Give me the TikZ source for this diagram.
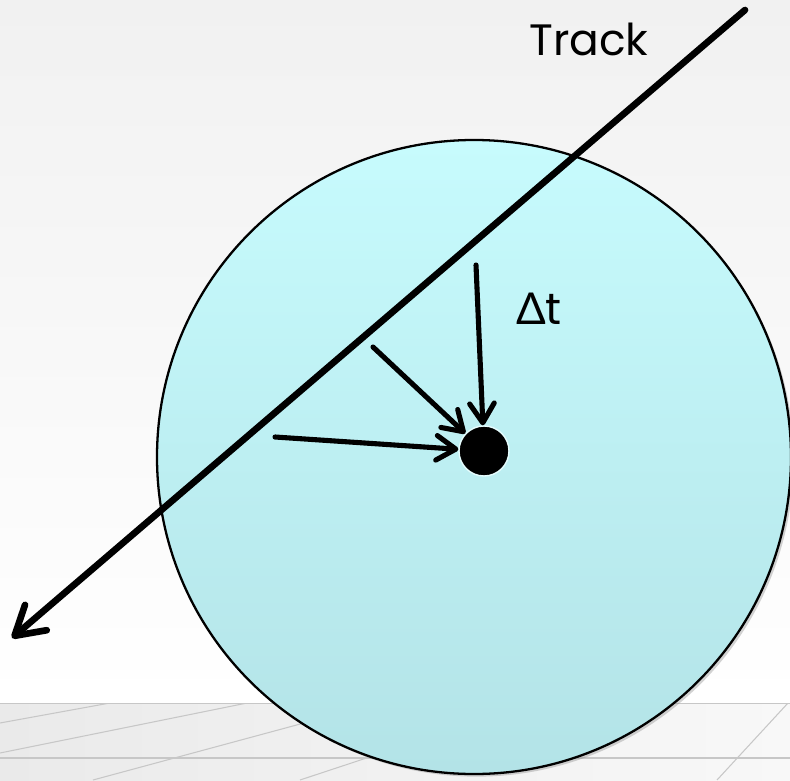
\documentclass[tikz,border=0pt]{standalone}
\usepackage{fontspec}
\setmainfont{Poppins}
\newfontfamily\deltafont{Lato}
\usetikzlibrary{arrows.meta, shadows}
\definecolor{bgtop}{HTML}{F1F1F1}
\definecolor{floorleft}{HTML}{EAEAEA}
\definecolor{floorright}{HTML}{F8F8F8}
\definecolor{zonetop}{HTML}{C7FBFD}
\definecolor{zonebottom}{HTML}{B3E3E7}

\begin{document}
\begin{tikzpicture}[x=0.02cm, y=-0.02cm,
    trackline/.style={line width=3.8pt, line cap=round,
        -{Straight Barb[length=16pt, width=19pt, round]}},
    pointer/.style={line width=2.9pt, line cap=round,
        -{Straight Barb[length=11pt, width=14pt, round]}},
    floorline/.style={black!22, line width=0.6pt},
    tag/.style={font=\fontsize{25}{30}\selectfont, inner sep=0pt}]
\useasboundingbox (0,0) rectangle (790,780);

% backdrop and floor
\shade[top color=bgtop, bottom color=white] (0,0) rectangle (790,703);
\shade[left color=floorleft, right color=floorright] (0,703) rectangle (790,780);
\begin{scope}
    \clip (0,703) rectangle (790,780);
    \draw[floorline] (0,703) -- (790,703);
    \draw[floorline] (0,758) -- (790,758);
    \draw[floorline] (0,723) -- (110,703);
    \draw[floorline] (0,753) -- (247,703);
    \draw[floorline] (93,780) -- (378,703);
    \draw[floorline] (300,780) -- (533,703);
    \draw[floorline] (717,780) -- (788,703);
\end{scope}

% detection region
\coordinate (zone) at (474,457);
\path[draw=black, line width=1.3pt, top color=zonetop, bottom color=zonebottom,
      drop shadow={shadow xshift=1.5pt, shadow yshift=-1.5pt, opacity=0.35}]
      (zone) circle[radius=317];

% track
\coordinate (trackstart) at (745,10);
\coordinate (trackend) at (12,638);
\draw[trackline] (trackstart) -- (trackend);
\node[tag] (tracklabel) at (589,39) {Track};

% hit and its arrivals
\node[circle, fill=black, draw=white!55!zonetop, line width=0.8pt,
      minimum size=1cm, inner sep=0pt] (hit) at (484,451) {};
\coordinate (fromtop) at (476,265);
\coordinate (fromdiag) at (373,347);
\coordinate (fromleft) at (275,437);
\draw[pointer] (fromtop) -- (hit);
\draw[pointer] (fromdiag) -- (hit);
\draw[pointer] (fromleft) -- (hit);
\node[tag] (dtlabel) at (539,309) {{\deltafont Δ}t};
\end{tikzpicture}
\end{document}
